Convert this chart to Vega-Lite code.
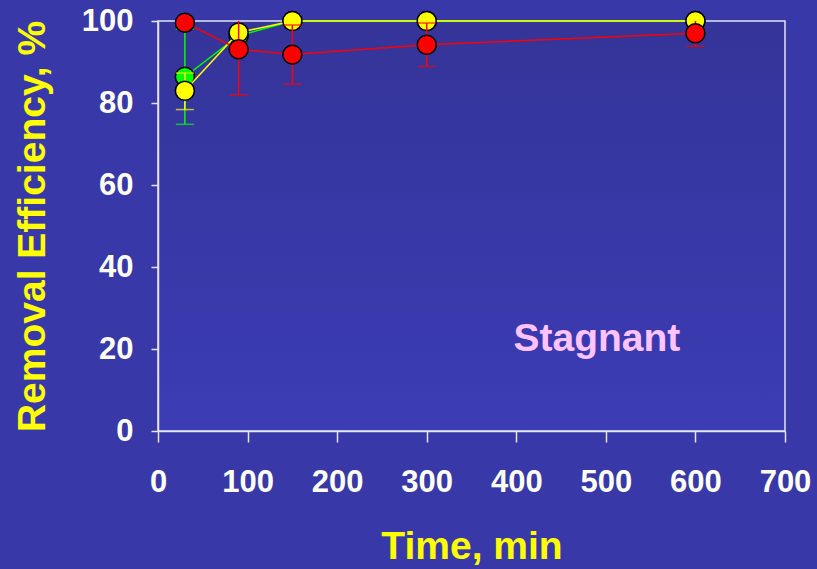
{
  "$schema": "https://vega.github.io/schema/vega-lite/v6.json",
  "width": 627,
  "height": 410,
  "autosize": {"type": "none"},
  "padding": {"left": 158, "top": 21, "right": 32, "bottom": 138},
  "background": "#3838a9",
  "config": {
    "font": "Liberation Sans",
    "view": {"stroke": "#e4e4f2", "strokeWidth": 1.5, "fill": {"gradient": "linear", "x1": 0, "y1": 0, "x2": 0, "y2": 1, "stops": [{"offset": 0, "color": "#343499"}, {"offset": 1, "color": "#3c3cb5"}]}},
    "axis": {
      "grid": false,
      "domainColor": "#e4e4f2",
      "domainWidth": 1.5,
      "tickColor": "#e4e4f2",
      "tickWidth": 1.5,
      "labelColor": "#fffff0",
      "labelFont": "Liberation Sans",
      "labelFontWeight": "bold",
      "labelFontSize": 31,
      "titleColor": "#ffff00",
      "titleFont": "Liberation Sans",
      "titleFontWeight": "bold",
      "titleFontSize": 39
    }
  },
  "data": {
    "values": [
      {"s": "g", "t": 30, "v": 86.4, "lo": 74.8, "hi": 98.0},
      {"s": "g", "t": 90, "v": 96.4, "lo": null, "hi": null},
      {"s": "g", "t": 150, "v": 100, "lo": null, "hi": null},
      {"s": "g", "t": 300, "v": 100, "lo": null, "hi": null},
      {"s": "g", "t": 600, "v": 100, "lo": null, "hi": null},
      {"s": "y", "t": 30, "v": 83.0, "lo": 78.4, "hi": 87.3},
      {"s": "y", "t": 90, "v": 97.2, "lo": null, "hi": null},
      {"s": "y", "t": 150, "v": 100, "lo": null, "hi": null},
      {"s": "y", "t": 300, "v": 100, "lo": null, "hi": null},
      {"s": "y", "t": 600, "v": 100, "lo": null, "hi": null},
      {"s": "r", "t": 30, "v": 99.6, "lo": null, "hi": null},
      {"s": "r", "t": 90, "v": 93.1, "lo": 82.0, "hi": 104.2},
      {"s": "r", "t": 150, "v": 91.8, "lo": 84.6, "hi": 99.0},
      {"s": "r", "t": 300, "v": 94.2, "lo": 88.9, "hi": 99.5},
      {"s": "r", "t": 600, "v": 97.0, "lo": 93.8, "hi": 100.2}
    ]
  },
  "encoding": {
    "x": {"field": "t", "type": "quantitative", "scale": {"domain": [0, 700], "nice": false},
      "axis": {"values": [0, 100, 200, 300, 400, 500, 600, 700], "tickSize": 11, "labelPadding": 49, "labelBaseline": "alphabetic", "labelFlush": false, "labelOverlap": false, "title": "Time, min", "titleY": 127, "titleBaseline": "alphabetic"}},
    "y": {"field": "v", "type": "quantitative", "scale": {"domain": [0, 100], "nice": false},
      "axis": {"values": [0, 20, 40, 60, 80, 100], "tickSize": 7, "labelPadding": 18, "labelFlush": false, "labelOverlap": false, "title": "Removal Efficiency, %", "titleX": -114, "titleY": 205, "titleBaseline": "alphabetic", "titleAngle": -90}}
  },
  "layer": [
    {"transform": [{"filter": "datum.s == 'g'"}], "mark": {"type": "line", "color": "#00ff00", "strokeWidth": 1.5}},
    {"transform": [{"filter": "datum.s == 'g' && isValid(datum.lo)"}], "mark": {"type": "rule", "color": "#00ff00", "strokeWidth": 1.5, "clip": true}, "encoding": {"y": {"field": "lo", "type": "quantitative"}, "y2": {"field": "hi"}}},
    {"transform": [{"filter": "datum.s == 'g' && isValid(datum.lo)"}], "mark": {"type": "tick", "orient": "horizontal", "color": "#00ff00", "size": 18, "thickness": 1.5, "clip": true}, "encoding": {"y": {"field": "lo", "type": "quantitative"}}},
    {"transform": [{"filter": "datum.s == 'g' && isValid(datum.hi)"}], "mark": {"type": "tick", "orient": "horizontal", "color": "#00ff00", "size": 18, "thickness": 1.5, "clip": true}, "encoding": {"y": {"field": "hi", "type": "quantitative"}}},
    {"transform": [{"filter": "datum.s == 'g'"}], "mark": {"type": "point", "filled": true, "fill": "#00ff00", "stroke": "#000000", "strokeWidth": 1.5, "size": 360, "opacity": 1}},

    {"transform": [{"filter": "datum.s == 'y'"}], "mark": {"type": "line", "color": "#ffff00", "strokeWidth": 1.5}},
    {"transform": [{"filter": "datum.s == 'y' && isValid(datum.lo)"}], "mark": {"type": "rule", "color": "#ffff00", "strokeWidth": 1.5, "clip": true}, "encoding": {"y": {"field": "lo", "type": "quantitative"}, "y2": {"field": "hi"}}},
    {"transform": [{"filter": "datum.s == 'y' && isValid(datum.lo)"}], "mark": {"type": "tick", "orient": "horizontal", "color": "#ffff00", "size": 18, "thickness": 1.5, "clip": true}, "encoding": {"y": {"field": "lo", "type": "quantitative"}}},
    {"transform": [{"filter": "datum.s == 'y' && isValid(datum.hi)"}], "mark": {"type": "tick", "orient": "horizontal", "color": "#ffff00", "size": 18, "thickness": 1.5, "clip": true}, "encoding": {"y": {"field": "hi", "type": "quantitative"}}},
    {"transform": [{"filter": "datum.s == 'y'"}], "mark": {"type": "point", "filled": true, "fill": "#ffff00", "stroke": "#000000", "strokeWidth": 1.5, "size": 360, "opacity": 1}},

    {"transform": [{"filter": "datum.s == 'r'"}], "mark": {"type": "line", "color": "#ff0000", "strokeWidth": 1.5}},
    {"transform": [{"filter": "datum.s == 'r' && isValid(datum.lo)"}], "mark": {"type": "rule", "color": "#ff0000", "strokeWidth": 1.5, "clip": true}, "encoding": {"y": {"field": "lo", "type": "quantitative"}, "y2": {"field": "hi"}}},
    {"transform": [{"filter": "datum.s == 'r' && isValid(datum.lo)"}], "mark": {"type": "tick", "orient": "horizontal", "color": "#ff0000", "size": 18, "thickness": 1.5, "clip": true}, "encoding": {"y": {"field": "lo", "type": "quantitative"}}},
    {"transform": [{"filter": "datum.s == 'r' && isValid(datum.hi)"}], "mark": {"type": "tick", "orient": "horizontal", "color": "#ff0000", "size": 18, "thickness": 1.5, "clip": true}, "encoding": {"y": {"field": "hi", "type": "quantitative"}}},
    {"transform": [{"filter": "datum.s == 'r'"}], "mark": {"type": "point", "filled": true, "fill": "#ff0000", "stroke": "#000000", "strokeWidth": 1.5, "size": 360, "opacity": 1}},

    {"data": {"values": [{"t": 490, "v": 19.5, "label": "Stagnant"}]}, "mark": {"type": "text", "font": "Liberation Sans", "fontWeight": "bold", "fontSize": 39, "color": "#ffc4ff", "align": "center", "baseline": "alphabetic"}, "encoding": {"text": {"field": "label"}}}
  ]
}
